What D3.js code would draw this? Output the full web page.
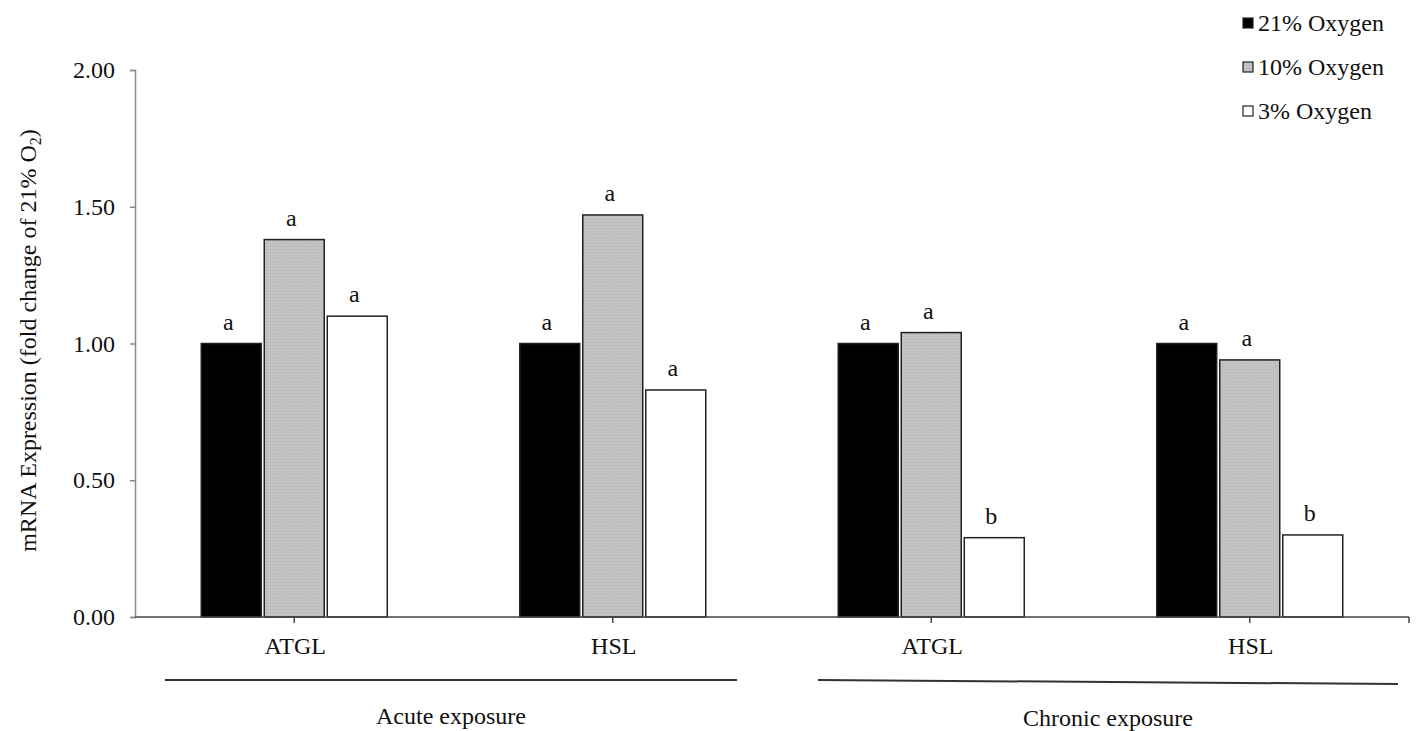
<!DOCTYPE html>
<html>
<head>
<meta charset="utf-8">
<script src="https://cdn.jsdelivr.net/npm/d3@7"></script>
<style>
  body { margin: 0; background: #fff; }
  svg text { font-family: "Liberation Serif", "Times New Roman", serif; fill: #111; }
</style>
</head>
<body>
<div id="chart"></div>
<script>
// categories (gene x exposure)
const categories = ["Acute ATGL", "Acute HSL", "Chronic ATGL", "Chronic HSL"];
const categoryLabels = ["ATGL", "HSL", "ATGL", "HSL"];
const series = ["21% Oxygen", "10% Oxygen", "3% Oxygen"];

// fold change values
const o21 = [1.00, 1.00, 1.00, 1.00];
const o10 = [1.38, 1.47, 1.04, 0.94];
const o3  = [1.10, 0.83, 0.29, 0.30];

// significance letters
const letters21 = ["a", "a", "a", "a"];
const letters10 = ["a", "a", "a", "a"];
const letters3  = ["a", "a", "b", "b"];

const groups = [
    { name: "Acute exposure", from: "Acute ATGL", to: "Acute HSL" },
    { name: "Chronic exposure", from: "Chronic ATGL", to: "Chronic HSL" }
];

const yTicks = [0, 0.5, 1, 1.5, 2];

const width = 1417, height = 731;
const fills = ["#000000", "url(#dots)", "#ffffff"];
const fontSize = "24px";

// table built from the arrays
const values = [o21, o10, o3];
const letters = [letters21, letters10, letters3];
const data = categories.map(function (c, i) {
    return {
        cat: c,
        bars: series.map(function (s, j) {
            return { s: s, v: values[j][i], l: letters[j][i], j: j };
        })
    };
});

const svg = d3.select("#chart").append("svg")
    .attr("width", width)
    .attr("height", height);

// gray dotted fill like the original
const pat = svg.append("defs").append("pattern")
    .attr("id", "dots")
    .attr("width", 3).attr("height", 3)
    .attr("patternUnits", "userSpaceOnUse");
pat.append("rect").attr("width", 3).attr("height", 3).attr("fill", "#c6c6c6");
pat.append("rect").attr("x", 0).attr("y", 0).attr("width", 1).attr("height", 1).attr("fill", "#a9a9a9");
pat.append("rect").attr("x", 1.5).attr("y", 1.5).attr("width", 1).attr("height", 1).attr("fill", "#b3b3b3");

const x0 = d3.scaleBand().domain(categories).range([135, 1409]);
const x1 = d3.scaleBand().domain(series).range([-93, 93]).paddingInner(0.048);
const y = d3.scaleLinear().domain([0, 2]).range([617, 70]);

// y axis
const yAxis = svg.append("g")
    .attr("transform", "translate(135,0)")
    .call(d3.axisLeft(y).tickValues(yTicks).tickFormat(d3.format(".2f")).tickSize(5).tickPadding(15));
yAxis.select(".domain").attr("stroke", "#8a8a8a").attr("stroke-width", 1.5);
yAxis.selectAll(".tick line").attr("stroke", "#8a8a8a").attr("stroke-width", 1.5);
yAxis.selectAll(".tick text")
    .style("font-size", fontSize)
    .style("font-family", "'Liberation Serif', serif")
    .attr("fill", "#111");

svg.append("text")
    .attr("transform", "translate(36," + (y(1) - 3) + ") rotate(-90)")
    .attr("text-anchor", "middle")
    .style("font-size", fontSize)
    .call(function (t) {
        t.append("tspan").text("mRNA Expression (fold change of 21% O");
        t.append("tspan").attr("dy", 5).style("font-size", "16px").text("2");
        t.append("tspan").attr("dy", -5).text(")");
    });

// bars
const cat = svg.selectAll(".cat").data(data).enter()
    .append("g")
    .attr("class", "cat")
    .attr("transform", function (d) { return "translate(" + (x0(d.cat) + x0.bandwidth() / 2) + ",0)"; });

cat.selectAll("rect").data(function (d) { return d.bars; }).enter()
    .append("rect")
    .attr("x", function (d) { return x1(d.s); })
    .attr("y", function (d) { return y(d.v); })
    .attr("width", x1.bandwidth())
    .attr("height", function (d) { return y(0) - y(d.v); })
    .attr("fill", function (d) { return fills[d.j]; })
    .attr("stroke", "#222")
    .attr("stroke-width", 1.5);

cat.selectAll(".letter").data(function (d) { return d.bars; }).enter()
    .append("text")
    .attr("class", "letter")
    .attr("x", function (d) { return x1(d.s) + x1.bandwidth() / 2 - 3; })
    .attr("y", function (d) { return y(d.v) - 14; })
    .attr("text-anchor", "middle")
    .style("font-size", fontSize)
    .text(function (d) { return d.l; });

// x axis baseline with ticks at the category centres and at the end
svg.append("line")
    .attr("x1", 135).attr("x2", 1409)
    .attr("y1", y(0)).attr("y2", y(0))
    .attr("stroke", "#444").attr("stroke-width", 1.5);
const xTickPos = categories.map(function (c) { return x0(c) + x0.bandwidth() / 2; }).concat([x0.range()[1]]);
svg.selectAll(".xtick").data(xTickPos).enter()
    .append("line")
    .attr("x1", function (d) { return d; }).attr("x2", function (d) { return d; })
    .attr("y1", y(0)).attr("y2", y(0) + 6)
    .attr("stroke", "#444").attr("stroke-width", 1.5);

svg.selectAll(".catlabel").data(categories).enter()
    .append("text")
    .attr("x", function (c) { return x0(c) + x0.bandwidth() / 2 + 1; })
    .attr("y", 654)
    .attr("text-anchor", "middle")
    .style("font-size", fontSize)
    .text(function (c, i) { return categoryLabels[i]; });

// exposure group lines and labels
const gx = [[30, -35, 0], [46, -11, 4]];
groups.forEach(function (g, i) {
    const a = x0(g.from) + gx[i][0];
    const b = x0(g.to) + x0.bandwidth() + gx[i][1];
    svg.append("line")
        .attr("x1", a).attr("x2", b)
        .attr("y1", 680).attr("y2", 680 + gx[i][2])
        .attr("stroke", "#333").attr("stroke-width", 2);
    svg.append("text")
        .attr("x", (a + b) / 2)
        .attr("y", 724 + i * 2)
        .attr("text-anchor", "middle")
        .style("font-size", fontSize)
        .text(g.name);
});

// legend
const legend = svg.selectAll(".legend").data(series).enter()
    .append("g")
    .attr("class", "legend")
    .attr("transform", function (d, i) { return "translate(1243," + (18 + i * 44) + ")"; });
legend.append("rect")
    .attr("width", 10).attr("height", 10)
    .attr("fill", function (d, i) { return fills[i]; })
    .attr("stroke", "#222").attr("stroke-width", 1.2);
legend.append("text")
    .attr("x", 15).attr("y", 13)
    .style("font-size", fontSize)
    .text(function (d) { return d; });
</script>
</body>
</html>
